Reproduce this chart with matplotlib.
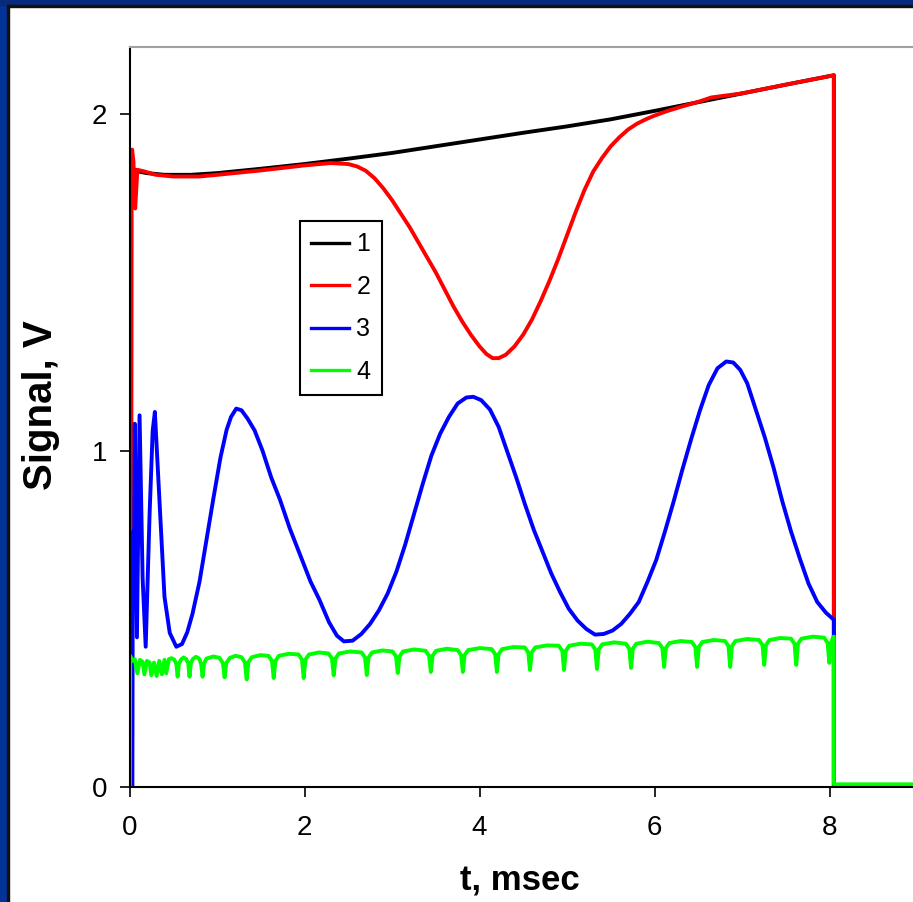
import matplotlib
matplotlib.use('Agg')
from matplotlib import pyplot as plt
from matplotlib.patches import Rectangle

plt.rcParams['font.family'] = ['Liberation Sans', 'DejaVu Sans']

# signal 1 (black)
t1 = [0, 0.018, 0.022, 0.045, 0.07, 0.1, 0.2, 0.4, 0.7, 1.0, 1.5, 2.0, 2.5, 3.0,
      3.5, 4.0, 4.5, 5.0, 5.5, 6.0, 6.5, 7.0, 7.5, 8.05, 8.05, 10]
v1 = [0, 0, 1.87, 1.80, 1.835, 1.83, 1.825, 1.82, 1.82, 1.825, 1.838, 1.852, 1.868, 1.885,
      1.905, 1.925, 1.945, 1.964, 1.985, 2.01, 2.036, 2.062, 2.088, 2.116, 0, 0]

# signal 2 (red)
t2 = [0, 0.015, 0.02, 0.03, 0.045, 0.065, 0.09, 0.17, 0.3, 0.5, 0.8, 1.0, 1.5, 2.0,
      2.3, 2.5, 2.6, 2.7, 2.8, 2.9, 3.0, 3.1, 3.2, 3.3, 3.4, 3.5, 3.6, 3.7, 3.8, 3.9,
      4.0, 4.08, 4.15, 4.22, 4.3, 4.4, 4.5, 4.6, 4.7, 4.8, 4.9, 5.0, 5.1, 5.2, 5.3,
      5.4, 5.5, 5.6, 5.7, 5.8, 5.9, 6.0, 6.15, 6.3, 6.5, 6.65, 7.0, 7.5, 8.05, 8.05, 10]
v2 = [0, 0, 1.80, 1.895, 1.86, 1.72, 1.835, 1.83, 1.82, 1.815, 1.815, 1.82, 1.833, 1.848,
      1.855, 1.852, 1.845, 1.832, 1.81, 1.78, 1.745, 1.705, 1.665, 1.62, 1.575, 1.53, 1.48,
      1.43, 1.385, 1.345,
      1.31, 1.287, 1.275, 1.275, 1.285, 1.31, 1.345, 1.39, 1.445, 1.505, 1.57, 1.64, 1.71,
      1.775, 1.83,
      1.87, 1.905, 1.932, 1.955, 1.972, 1.985, 1.996, 2.01, 2.022, 2.037, 2.05, 2.062,
      2.088, 2.116, 0, 0]

# signal 3 (blue)
t3 = [0, 0.033, 0.036, 0.042, 0.05, 0.06, 0.085, 0.115, 0.15, 0.185, 0.23, 0.265,
      0.29, 0.32, 0.37, 0.4, 0.46, 0.535, 0.60, 0.66, 0.72, 0.80, 0.88, 0.96, 1.04,
      1.11, 1.16, 1.22, 1.28, 1.35, 1.43, 1.52, 1.62, 1.72, 1.83, 1.95, 2.07, 2.17,
      2.28, 2.37, 2.45, 2.55, 2.65, 2.75, 2.85, 2.95, 3.05, 3.15, 3.25, 3.35, 3.45,
      3.55, 3.65, 3.75, 3.85, 3.93, 4.02, 4.12, 4.22, 4.32, 4.42, 4.52, 4.62, 4.72,
      4.82, 4.92, 5.02, 5.12, 5.22, 5.32, 5.42, 5.52, 5.62, 5.72, 5.82, 5.92, 6.02,
      6.12, 6.22, 6.32, 6.42, 6.52, 6.62, 6.72, 6.82, 6.90, 6.98, 7.06, 7.16, 7.26,
      7.36, 7.46, 7.56, 7.66, 7.76, 7.86, 7.96, 8.05, 8.05, 10]
v3 = [0, 0, 0.47, 0.76, 0.55, 1.08, 0.445, 1.105, 0.62, 0.417, 0.815, 1.06,
      1.115, 0.964, 0.714, 0.565, 0.458, 0.417, 0.425, 0.46, 0.515, 0.61, 0.735, 0.86, 0.98,
      1.062, 1.10, 1.125, 1.12, 1.095, 1.06, 1.00, 0.92, 0.854, 0.77, 0.69, 0.61, 0.557,
      0.49, 0.45, 0.433, 0.435, 0.455, 0.485, 0.525, 0.575, 0.64, 0.72, 0.81, 0.90, 0.985,
      1.05, 1.10, 1.14, 1.158, 1.16, 1.15, 1.122, 1.07, 0.995, 0.92, 0.84, 0.765, 0.70,
      0.635, 0.58, 0.53, 0.495, 0.47, 0.453, 0.455, 0.465, 0.485, 0.515, 0.55, 0.61, 0.675,
      0.76, 0.85, 0.945, 1.035, 1.12, 1.195, 1.245, 1.265, 1.262, 1.24, 1.20, 1.12, 1.04,
      0.95, 0.85, 0.76, 0.68, 0.605, 0.55, 0.518, 0.497, 0, 0]

# signal 4 (green), as (t, V) points
green_pts = [
    (0, 0), (0.004, 0), (0.008, 0.39), (0.03, 0.375), (0.06, 0.38), (0.09, 0.338),
    (0.12, 0.378), (0.15, 0.372), (0.17, 0.335), (0.2, 0.375), (0.23, 0.37),
    (0.25, 0.332), (0.28, 0.37), (0.31, 0.33), (0.34, 0.375), (0.37, 0.335),
    (0.4, 0.378), (0.42, 0.338), (0.45, 0.38), (0.48, 0.383),
    (0.51, 0.379), (0.535, 0.366), (0.55, 0.328), (0.565, 0.366), (0.59, 0.379), (0.618, 0.385),
    (0.646, 0.381), (0.671, 0.368), (0.686, 0.328), (0.701, 0.368), (0.726, 0.381), (0.76, 0.387),
    (0.795, 0.382), (0.818, 0.367), (0.835, 0.328), (0.852, 0.367), (0.88, 0.382), (0.96, 0.388),
    (1.027, 0.384), (1.067, 0.369), (1.087, 0.326), (1.107, 0.369), (1.147, 0.384), (1.213, 0.390),
    (1.279, 0.386), (1.319, 0.371), (1.339, 0.320), (1.359, 0.371), (1.399, 0.386), (1.494, 0.392),
    (1.588, 0.390), (1.628, 0.375), (1.648, 0.324), (1.668, 0.375), (1.708, 0.390), (1.82, 0.396),
    (1.931, 0.394), (1.971, 0.379), (1.991, 0.324), (2.011, 0.379), (2.051, 0.394), (2.163, 0.400),
    (2.274, 0.397), (2.314, 0.382), (2.334, 0.332), (2.354, 0.382), (2.394, 0.397), (2.523, 0.403),
    (2.652, 0.400), (2.692, 0.385), (2.712, 0.333), (2.732, 0.385), (2.772, 0.400), (2.889, 0.406),
    (3.006, 0.403), (3.046, 0.388), (3.066, 0.339), (3.086, 0.388), (3.126, 0.403), (3.255, 0.409),
    (3.384, 0.405), (3.424, 0.390), (3.444, 0.342), (3.464, 0.390), (3.504, 0.405), (3.627, 0.411),
    (3.75, 0.407), (3.79, 0.392), (3.81, 0.342), (3.83, 0.392), (3.87, 0.407), (4.005, 0.413),
    (4.139, 0.410), (4.179, 0.395), (4.199, 0.342), (4.219, 0.395), (4.259, 0.410), (4.388, 0.416),
    (4.517, 0.415), (4.557, 0.400), (4.577, 0.348), (4.597, 0.400), (4.637, 0.415), (4.772, 0.421),
    (4.906, 0.420), (4.946, 0.405), (4.966, 0.348), (4.986, 0.405), (5.026, 0.420), (5.155, 0.426),
    (5.283, 0.424), (5.323, 0.409), (5.343, 0.351), (5.363, 0.409), (5.403, 0.424), (5.538, 0.430),
    (5.672, 0.426), (5.712, 0.411), (5.732, 0.354), (5.752, 0.411), (5.792, 0.426), (5.921, 0.432),
    (6.05, 0.428), (6.09, 0.413), (6.11, 0.357), (6.13, 0.413), (6.17, 0.428), (6.299, 0.434),
    (6.427, 0.431), (6.467, 0.416), (6.487, 0.357), (6.507, 0.416), (6.547, 0.431), (6.676, 0.437),
    (6.805, 0.434), (6.845, 0.419), (6.865, 0.357), (6.885, 0.419), (6.925, 0.434), (7.06, 0.440),
    (7.194, 0.437), (7.234, 0.422), (7.254, 0.363), (7.274, 0.422), (7.314, 0.437), (7.437, 0.443),
    (7.56, 0.441), (7.60, 0.426), (7.62, 0.363), (7.64, 0.426), (7.68, 0.441), (7.809, 0.447),
    (7.938, 0.444), (7.978, 0.429), (7.998, 0.369), (8.018, 0.429), (8.04, 0.445), (8.05, 0.447),
    (8.05, 0.008), (10, 0.008),
]
t4 = [p[0] for p in green_pts]
v4 = [p[1] for p in green_pts]

W, H = 913.0, 902.0
fig = plt.figure(figsize=(W / 100, H / 100), dpi=100)

# slide frame: navy strips on the left and top with a thin dark edge
fig.add_artist(Rectangle((0, 0), 7.3 / W, 1, transform=fig.transFigure,
                         color='#033399', zorder=0))
fig.add_artist(Rectangle((0, 1 - 5.2 / H), 1, 5.2 / H, transform=fig.transFigure,
                         color='#082a7c', zorder=0))
fig.add_artist(Rectangle((7.3 / W, 0), 2.0 / W, 1 - 5.2 / H, transform=fig.transFigure,
                         color='#111111', zorder=0))
fig.add_artist(Rectangle((7.3 / W, 1 - 7.0 / H), 1, 1.8 / H, transform=fig.transFigure,
                         color='#111111', zorder=0))

ax = fig.add_axes([129.5 / W, 115 / H, 875 / W, 740 / H])

lw = 2.8
ax.plot(t1, v1, color='black', lw=lw, label='1')
ax.plot(t2, v2, color='#ff0000', lw=lw, label='2')
ax.plot(t3, v3, color='#0000ff', lw=lw, label='3')
ax.plot(t4, v4, color='#00ff00', lw=lw, label='4', solid_joinstyle='round')

ax.set_xlim(0, 10)
ax.set_ylim(0, 2.2)
ax.set_xticks([0, 2, 4, 6, 8])
ax.set_yticks([0, 1, 2])

ax.tick_params(axis='both', direction='out', length=7.5, width=1.2,
               labelsize=20, colors='black', top=False, right=False)
ax.tick_params(axis='x', pad=13)
ax.tick_params(axis='y', pad=8.5)

for side in ['left', 'bottom']:
    ax.spines[side].set_color('black')
    ax.spines[side].set_linewidth(1.5)
for side in ['top', 'right']:
    ax.spines[side].set_color('#a0a0a0')
    ax.spines[side].set_linewidth(1.5)

leg = ax.legend(loc='upper left', bbox_to_anchor=(300 / W, 1 - 221 / H),
                bbox_transform=fig.transFigure, frameon=True, fancybox=False,
                edgecolor='black', framealpha=1, fontsize=18, handlelength=1.5,
                handletextpad=0.3, labelspacing=0.74, borderpad=0.45,
                borderaxespad=0)
leg.get_frame().set_linewidth(1.5)
for line in leg.get_lines():
    line.set_linewidth(2.4)

fig.text(41 / W, 1 - 405 / H, 'Signal, V', rotation=90, fontsize=29,
         fontweight='bold', ha='center', va='center')
fig.text(520 / W, 1 - 881 / H, 't, msec', fontsize=25,
         fontweight='bold', ha='center', va='center')

fig.savefig('out.png', dpi=100)
